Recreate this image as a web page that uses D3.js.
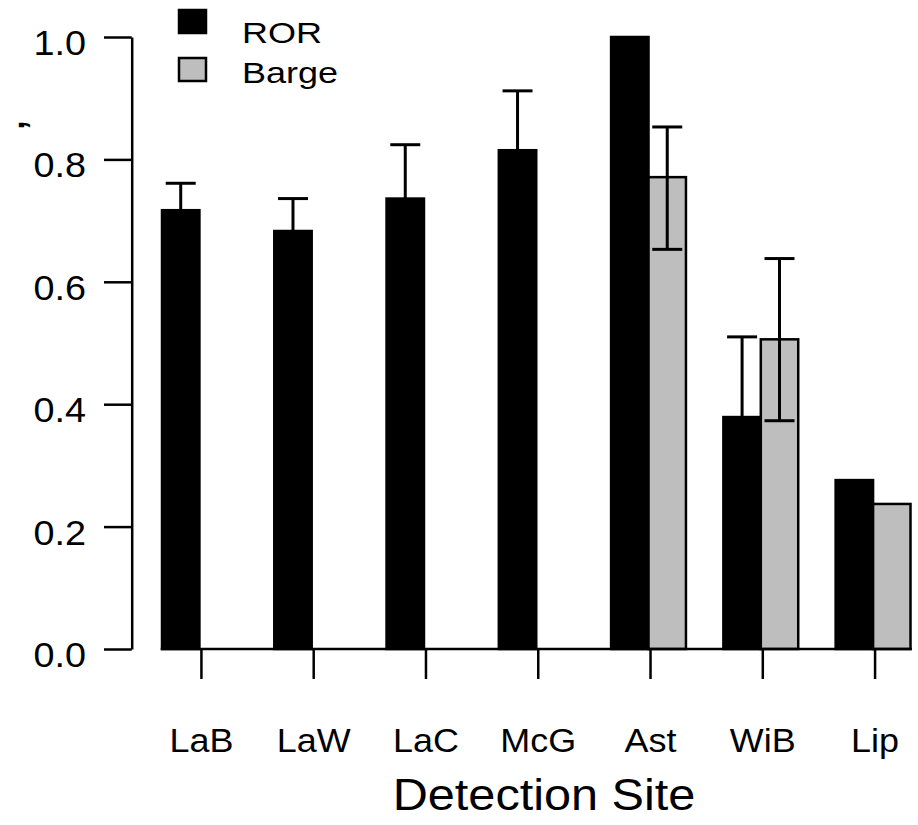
<!DOCTYPE html>
<html>
<head>
<meta charset="utf-8">
<script src="https://cdn.jsdelivr.net/npm/d3@7"></script>
<style>
  html, body { margin: 0; padding: 0; background: #fff; }
  svg { display: block; font-family: "Liberation Sans", Arial, Helvetica, sans-serif; }
</style>
</head>
<body>
<svg id="chart" width="918" height="825" viewBox="0 0 918 825"></svg>
<script>
const categories = ["LaB", "LaW", "LaC", "McG", "Ast", "WiB", "Lip"];
const seriesNames = ["ROR", "Barge"];
const seriesColors = ["#000000", "#BEBEBE"];

const rorValues = [0.717, 0.683, 0.736, 0.815, 1.0, 0.379, 0.276];
const rorUpper = [0.761, 0.736, 0.824, 0.912, null, 0.51, null];

const bargeValues = [0, 0, 0, 0, 0.771, 0.506, 0.237];
const bargeLower = [null, null, null, null, 0.653, 0.373, null];
const bargeUpper = [null, null, null, null, 0.853, 0.638, null];

const yTicks = [0, 0.2, 0.4, 0.6, 0.8, 1.0];
const xTitle = "Detection Site";

const svg = d3.select("#chart");
const fontFamily = "Liberation Sans, Arial, sans-serif";

const axisX = 131.7;
const y = d3.scaleLinear().domain([0, 1]).range([649, 37]);

const x = d3
  .scaleBand()
  .domain(categories)
  .range([162, 910.5])
  .paddingInner(1 / 3)
  .paddingOuter(0);

const xInner = d3
  .scaleBand()
  .domain(seriesNames)
  .range([0, x.bandwidth()]);

// rows for bars and error bars
const rows = [];
categories.forEach((cat, i) => {
  rows.push({ cat, series: "ROR", value: rorValues[i], lo: null, hi: rorUpper[i] });
  rows.push({ cat, series: "Barge", value: bargeValues[i], lo: bargeLower[i], hi: bargeUpper[i] });
});

const color = d3.scaleOrdinal().domain(seriesNames).range(seriesColors);

svg
  .append("g")
  .attr("class", "bars")
  .selectAll("rect")
  .data(rows.filter((d) => d.value > 0))
  .join("rect")
  .attr("x", (d) => x(d.cat) + xInner(d.series))
  .attr("width", xInner.bandwidth())
  .attr("y", (d) => y(d.value))
  .attr("height", (d) => y(0) - y(d.value))
  .attr("fill", (d) => color(d.series))
  .attr("stroke", "#000")
  .attr("stroke-width", 2.5);

// error bars
const capHalf = 15;
const errRows = rows.filter((d) => d.hi != null);
const errG = svg.append("g").attr("class", "errors").attr("stroke", "#000").attr("stroke-width", 3);
errRows.forEach((d) => {
  const cx = x(d.cat) + xInner(d.series) + xInner.bandwidth() / 2;
  const lo = d.lo != null ? d.lo : d.value;
  errG.append("line").attr("x1", cx).attr("x2", cx).attr("y1", y(lo)).attr("y2", y(d.hi));
  errG.append("line").attr("x1", cx - capHalf).attr("x2", cx + capHalf).attr("y1", y(d.hi)).attr("y2", y(d.hi));
  if (d.lo != null) {
    errG.append("line").attr("x1", cx - capHalf).attr("x2", cx + capHalf).attr("y1", y(d.lo)).attr("y2", y(d.lo));
  }
});

// y axis
const ySx = 1.08;
const yAxis = svg
  .append("g")
  .attr("transform", `translate(${axisX},0)`)
  .call(
    d3
      .axisLeft(y)
      .tickValues(yTicks)
      .tickFormat(d3.format(".1f"))
      .tickSize(27.7)
      .tickSizeOuter(0)
      .tickPadding(18)
  );
yAxis.selectAll("path, line").attr("stroke", "#000").attr("stroke-width", 2.5);
yAxis
  .selectAll("text")
  .attr("fill", "#000")
  .attr("font-size", 35)
  .attr("dy", "0.5em")
  .attr("x", -45.7 / ySx)
  .attr("transform", `scale(${ySx},1)`)
  .attr("font-family", fontFamily);

// x axis
const tickShift = 2;
const xSx = 1.09;
const xAxis = svg
  .append("g")
  .attr("transform", `translate(0,${y(0)})`)
  .call(d3.axisBottom(x).tickSize(30).tickSizeOuter(0));
xAxis.select(".domain").attr("d", `M${x.range()[0] - 1.25},0H${x.range()[1] + 1.25}`);
xAxis.selectAll("path, line").attr("stroke", "#000").attr("stroke-width", 2.5);
xAxis.selectAll(".tick line").attr("x1", tickShift).attr("x2", tickShift);
xAxis
  .selectAll(".tick text")
  .attr("x", tickShift / xSx)
  .attr("y", 103)
  .attr("dy", 0)
  .attr("transform", `scale(${xSx},1)`)
  .attr("fill", "#000")
  .attr("font-size", 33)
  .attr("font-family", fontFamily);

svg
  .append("text")
  .attr("transform", "translate(544,810) scale(1.08,1)")
  .attr("text-anchor", "middle")
  .attr("font-size", 45)
  .text(xTitle);

// clipped y-axis title fragment
svg
  .append("text")
  .attr("transform", "translate(24,125) rotate(-90)")
  .attr("text-anchor", "middle")
  .attr("font-size", 48)
  .text(",");

// legend
const legend = svg.append("g").attr("class", "legend");
const legendRows = [
  { name: "ROR", boxY: 10, textY: 43.3 },
  { name: "Barge", boxY: 58, textY: 83.3 },
];
legendRows.forEach((r) => {
  legend
    .append("rect")
    .attr("x", 179)
    .attr("y", r.boxY)
    .attr("width", 27)
    .attr("height", 23)
    .attr("fill", color(r.name))
    .attr("stroke", "#000")
    .attr("stroke-width", 2.5);
  legend
    .append("text")
    .attr("transform", `translate(242,${r.textY}) scale(1.2,1)`)
    .attr("font-size", 30)
    .text(r.name);
});
</script>
</body>
</html>
